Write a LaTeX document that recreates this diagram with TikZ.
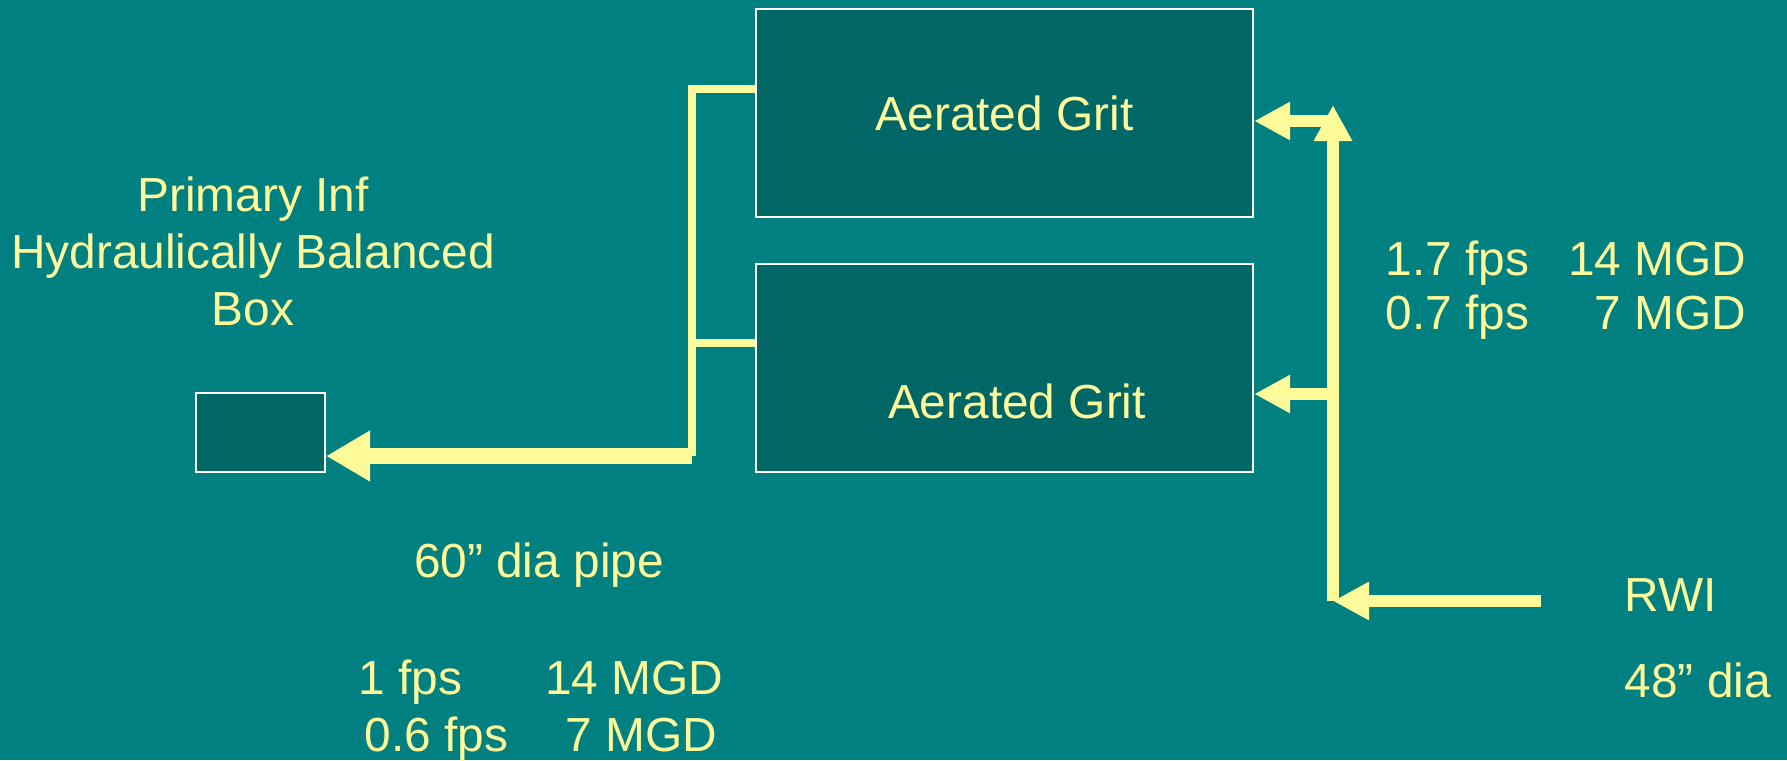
\documentclass[tikz,border=0pt]{standalone}
\usepackage{fontspec}
\setmainfont{Liberation Sans}
\usetikzlibrary{arrows.meta}
\begin{document}
\begin{tikzpicture}[x=0.01cm,y=-0.01cm,
	every node/.style={font=\fontsize{13.6}{16.2}\selectfont,text=MauOng},
	be/.style={draw=white,line width=0.6pt,fill=MauBe,minimum width=4.97cm,minimum height=2.08cm,inner sep=0pt},
	ongNho/.style={MauOng,line width=2pt},
	ongVao/.style={MauOng,line width=3.2pt,-{Triangle[length=0.36cm,width=0.36cm]}},
	ongRa/.style={MauOng,line width=4.5pt,-{Triangle[length=0.44cm,width=0.48cm]}}]
			\colorlet{MauNen}{teal}
			\colorlet{MauBe}{teal!80!black}
			\colorlet{MauOng}{yellow!40}
			\useasboundingbox (0,0) rectangle (1787,760);
			\fill[MauNen] (0,0) rectangle (1787,760);
			% the two grit tanks and the balanced box
			\node[be] (gritA) at (1004.5,113) {Aerated Grit};
			\node[be] (gritB) at (1004.5,368) {};
			\node (txtB) at (1017,401) {Aerated Grit};
			\node[be,minimum width=1.29cm,minimum height=0.79cm] (hop) at (260.5,432.5) {};
			% outlet pipe
			\coordinate (gop) at (692,456);
			\draw[ongNho] ([yshift=2.4mm]gritA.west) -| (gop);
			\draw[ongNho] ([yshift=2.5mm]gritB.west) -- ([yshift=2.5mm]gritB.west -| gop);
			\draw[ongRa] (gop) -- (hop.east |- gop);
			% inlet pipe
			\coordinate (ngaBa) at (1333,601);
			\coordinate (rwiDau) at (1541,601);
			\coordinate (dinh) at (1333,105);
			\coordinate (dichA) at ([yshift=-0.8mm]gritA.east);
			\coordinate (dichB) at ([yshift=-2.6mm]gritB.east);
			\draw[ongVao] (rwiDau) -- (ngaBa);
			\draw[ongVao] (ngaBa) -- (dinh);
			\draw[ongVao] (ngaBa |- dichA) -- (dichA);
			\draw[ongVao] (ngaBa |- dichB) -- (dichB);
			% labels
			\node[align=center] (hopTen) at (253,251) {Primary Inf\\Hydraulically Balanced\\Box};
			\node[anchor=west,inner sep=0pt] (vanToc) at (1385,292) {\def\arraystretch{0.95}\begin{tabular}{@{}l@{\hspace{0.39cm}}r@{}}1.7 fps & 14 MGD\\0.7 fps & 7 MGD\end{tabular}};
			\node (ongTen) at (539,565) {60” dia pipe};
			\node[align=center] (ongLuu) at (541,711) {1 fps\hspace{0.83cm}14 MGD\\0.6 fps\hspace{0.57cm}7 MGD};
			\node[anchor=west,inner sep=0pt] (rwiTen) at (1624,595) {RWI};
			\node[anchor=west,inner sep=0pt] (rwiCo) at (1624,680) {48” dia};
		\end{tikzpicture}
\end{document}
